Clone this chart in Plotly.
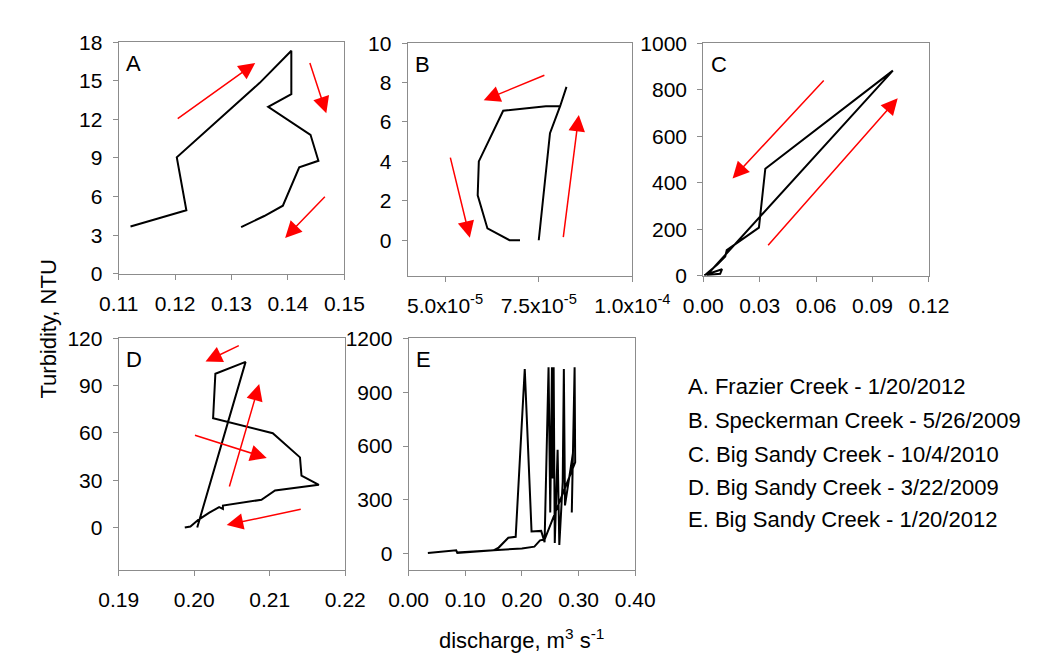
import plotly.graph_objects as go

# ---------------- data ----------------
# Panel A: Frazier Creek 1/20/2012
a_q = [0.1121, 0.1220, 0.1203, 0.1350, 0.1406, 0.1406, 0.1365, 0.1440, 0.1454, 0.1420, 0.1391, 0.1358, 0.1317]
a_t = [3.67, 4.94, 9.05, 14.84, 17.33, 13.97, 12.97, 10.80, 8.78, 8.28, 5.29, 4.49, 3.62]
# Panel B: Speckerman Creek 5/26/2009
b_q = [7.50e-5, 7.80e-5, 8.07e-5, 8.24e-5, 8.19e-5, 8.07e-5, 7.69e-5, 6.55e-5, 5.90e-5, 5.87e-5, 6.13e-5, 6.72e-5, 7.00e-5]
b_t = [0.0, 5.43, 6.80, 7.78, 7.50, 6.80, 6.80, 6.57, 4.00, 2.28, 0.60, 0.0, 0.0]
# Panel C: Big Sandy Creek 10/4/2010
c_q = [0.0005, 0.0100, 0.0090, 0.0020, 0.1008, 0.0330, 0.0296, 0.0125, 0.0117, 0.0075, 0.0010]
c_t = [2, 28, 8, 3, 882, 460, 207, 110, 83, 48, 3]
# Panel D: Big Sandy Creek 3/22/2009
d_q = [0.2004, 0.2068, 0.2028, 0.2025, 0.2104, 0.2140, 0.2142, 0.2165, 0.2107, 0.2089, 0.2038,
       0.2038, 0.2033, 0.2020, 0.2005, 0.1995, 0.19875]
d_t = [0.0, 105.1, 97.6, 69.4, 59.8, 44.5, 32.9, 27.1, 23.5, 17.6, 13.9,
       11.8, 12.9, 9.4, 4.7, 0.6, 0.0]
# Panel E: Big Sandy Creek 1/20/2012
e_q = [0.034, 0.084, 0.086, 0.123, 0.150, 0.159, 0.176, 0.189, 0.205, 0.217, 0.234, 0.240,
       0.247, 0.250, 0.253, 0.254, 0.256, 0.258, 0.263, 0.266, 0.272, 0.274, 0.276, 0.290,
       0.288, 0.293, 0.294, 0.251, 0.240, 0.232, 0.222, 0.200, 0.160, 0.120, 0.085]
e_t = [5, 20, 5, 15, 20, 35, 90, 95, 1030, 125, 128, 65,
       1040, 230, 1040, 420, 1040, 60, 580, 50, 400, 1030, 270, 560,
       230, 1040, 510, 160, 80, 75, 40, 30, 22, 15, 8]

# Red hysteresis-direction arrows: (tail_x, tail_y, head_x, head_y)
a_arrows = [(0.1202, 11.97, 0.1342, 16.38), (0.1438, 16.5, 0.1468, 12.47), (0.1468, 6.11, 0.1395, 2.79)]
b_arrows = [(7.69e-5, 8.40, 6.03e-5, 7.10), (5.13e-5, 4.27, 5.66e-5, 0.13), (8.15e-5, 0.08, 8.57e-5, 6.36)]
c_arrows = [(0.0648, 846, 0.0156, 418), (0.0338, 124, 0.1034, 763)]
d_arrows = [(0.2061, 115.9, 0.2015, 105.3), (0.2046, 25.1, 0.2086, 91.0),
            (0.1999, 58.8, 0.2096, 44.1), (0.2143, 11.8, 0.2043, 1.6)]
e_arrows = []

panel_letters = ["A", "B", "C", "D", "E"]
legend_lines = ["A. Frazier Creek - 1/20/2012",
                "B. Speckerman Creek - 5/26/2009",
                "C. Big Sandy Creek - 10/4/2010",
                "D. Big Sandy Creek - 3/22/2009",
                "E. Big Sandy Creek - 1/20/2012"]

a_xt = [0.11, 0.12, 0.13, 0.14, 0.15]; a_xl = ["0.11", "0.12", "0.13", "0.14", "0.15"]
a_yt = [0, 3, 6, 9, 12, 15, 18]
b_xt = [5.0e-5, 7.5e-5, 1.0e-4]; b_xl = ["5.0x10<sup>-5</sup>", "7.5x10<sup>-5</sup>", "1.0x10<sup>-4</sup>"]
b_yt = [0, 2, 4, 6, 8, 10]
c_xt = [0, 0.03, 0.06, 0.09, 0.12]; c_xl = ["0.00", "0.03", "0.06", "0.09", "0.12"]
c_yt = [0, 200, 400, 600, 800, 1000]
d_xt = [0.19, 0.20, 0.21, 0.22]; d_xl = ["0.19", "0.20", "0.21", "0.22"]
d_yt = [0, 30, 60, 90, 120]
e_xt = [0, 0.1, 0.2, 0.3, 0.4]; e_xl = ["0.00", "0.10", "0.20", "0.30", "0.40"]
e_yt = [0, 300, 600, 900, 1200]

# ---------------- layout geometry ----------------
W, H = 1043, 656
FONT = "Liberation Sans, Arial, sans-serif"
TICK_SIZE = 21
TEXT_SIZE = 22

def px_x(p):
    return p / W

def px_y(p):
    return 1 - p / H

panels = [
    # (x, y, xrange, yrange, xticks, xlabels, yticks, box px: left, right, top, bottom, arrows)
    (a_q, a_t, [0.11, 0.15], [0, 18], a_xt, a_xl, a_yt, (96, 335, 23, 263), a_arrows),
    (b_q, b_t, [4.0e-5, 1.0e-4], [-1.8, 10], b_xt, b_xl, b_yt, (402, 640, 24, 265), b_arrows),
    (c_q, c_t, [0, 0.12], [0, 1000], c_xt, c_xl, c_yt, (715, 954, 24, 265), c_arrows),
    (d_q, d_t, [0.19, 0.22], [-27, 120], d_xt, d_xl, d_yt, (96, 336, 330, 570), d_arrows),
    (e_q, e_t, [0, 0.40], [-90, 1200], e_xt, e_xl, e_yt, (403, 643, 330, 570), e_arrows),
]

fig = go.Figure()
layout = dict(
    width=W, height=H, autosize=False,
    margin=dict(l=0, r=0, t=0, b=0),
    paper_bgcolor="white", plot_bgcolor="white",
    showlegend=False,
    font=dict(family=FONT, size=TICK_SIZE, color="black"),
)
annotations = []

axis_common = dict(
    showline=True, mirror=True, linecolor="#8c8c8c", linewidth=1,
    ticks="outside", ticklen=5, tickcolor="#8c8c8c", tickwidth=1,
    showgrid=False, zeroline=False,
    tickfont=dict(family=FONT, size=TICK_SIZE, color="black"),
    fixedrange=True,
)

for i, (xs, ys, xr, yr, xt, xl, yt, box, arrows) in enumerate(panels):
    n = i + 1
    xa = "xaxis" if n == 1 else f"xaxis{n}"
    ya = "yaxis" if n == 1 else f"yaxis{n}"
    xref = "x" if n == 1 else f"x{n}"
    yref = "y" if n == 1 else f"y{n}"
    l, r, t, b = box
    layout[xa] = dict(axis_common, domain=[px_x(l), px_x(r)], range=xr,
                      tickvals=xt, ticktext=xl, anchor=yref, ticklabelstandoff=6)
    layout[ya] = dict(axis_common, domain=[px_y(b), px_y(t)], range=yr,
                      tickvals=yt, ticktext=[str(v) for v in yt], anchor=xref,
                      ticklabelstandoff=6)
    fig.add_trace(go.Scatter(x=xs, y=ys, mode="lines", xaxis=xref, yaxis=yref,
                             line=dict(color="black", width=2), hoverinfo="skip"))
    for (tx, ty, hx, hy) in arrows:
        annotations.append(dict(
            x=hx, y=hy, ax=tx, ay=ty, xref=xref, yref=yref, axref=xref, ayref=yref,
            text="", showarrow=True, arrowhead=2, arrowsize=2.2, arrowwidth=1.5,
            arrowcolor="#ff0000", standoff=0, startstandoff=0))
    annotations.append(dict(
        x=px_x(l + 6), y=px_y(t + 22), xref="paper", yref="paper",
        text=panel_letters[i], showarrow=False, xanchor="left", yanchor="middle",
        font=dict(family=FONT, size=TEXT_SIZE, color="black")))

# legend block (text list on the right)
legend_y = [380, 415, 450, 485, 518]
for txt, yy in zip(legend_lines, legend_y):
    annotations.append(dict(
        x=px_x(697), y=px_y(yy), xref="paper", yref="paper", text=txt,
        showarrow=False, xanchor="left", yanchor="middle",
        font=dict(family=FONT, size=TEXT_SIZE, color="black")))

# shared axis titles
annotations.append(dict(
    x=px_x(22), y=px_y(320), xref="paper", yref="paper", text="Turbidity, NTU",
    textangle=-90, showarrow=False, xanchor="center", yanchor="middle",
    font=dict(family=FONT, size=TEXT_SIZE, color="black")))
annotations.append(dict(
    x=px_x(523), y=px_y(641), xref="paper", yref="paper",
    text="discharge, m<sup>3</sup> s<sup>-1</sup>",
    showarrow=False, xanchor="center", yanchor="middle",
    font=dict(family=FONT, size=TEXT_SIZE, color="black")))

layout["annotations"] = annotations
fig.update_layout(**layout)
fig.write_html("out.html")
